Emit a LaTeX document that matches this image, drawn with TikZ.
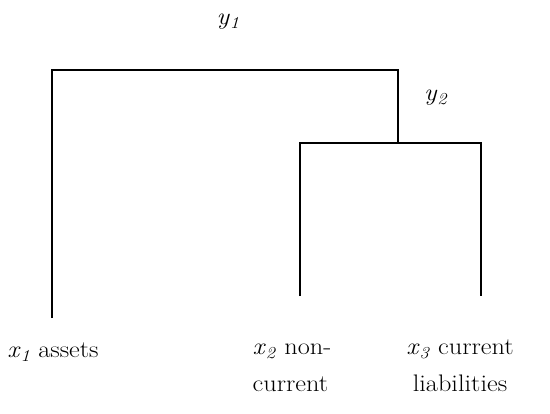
\documentclass[tikz,border=0pt]{standalone}
\usepackage{fontspec}
\setmainfont{Latin Modern Roman}[FakeStretch=1.1]
\begin{document}
\begin{tikzpicture}[x=1bp,y=-1bp,every node/.style={font=\fontsize{24}{37}\selectfont,inner sep=0pt}]
			\useasboundingbox (0,0) rectangle (550,413);
			\coordinate (A) at (52,70);
			\coordinate (B) at (398,70);
			\coordinate (C) at (398,143);
			\coordinate (D) at (300,143);
			\coordinate (E) at (481,143);
			\coordinate (L1) at (52,318);
			\coordinate (L2) at (300,296);
			\coordinate (L3) at (481,296);
			\draw[line width=2.8bp] (L1) -- (A) -- (B) -- (C);
			\draw[line width=2.2bp] (L2) -- (D) -- (E) -- (L3);
			\node (y1) at (228,22) {\textit{y}\textsubscript{\textit{1}}};
			\node (y2) at (436,98) {\textit{y}\textsubscript{\textit{2}}};
			\node (x1) at (53,352) {\textit{x}\textsubscript{\textit{1}} assets};
			\node[align=left] (x2) at (292,368) {\textit{x}\textsubscript{\textit{2}} non-\\current};
			\node[align=center] (x3) at (460,366) {\textit{x}\textsubscript{\textit{3}} current\\liabilities};
		      \end{tikzpicture}
\end{document}
